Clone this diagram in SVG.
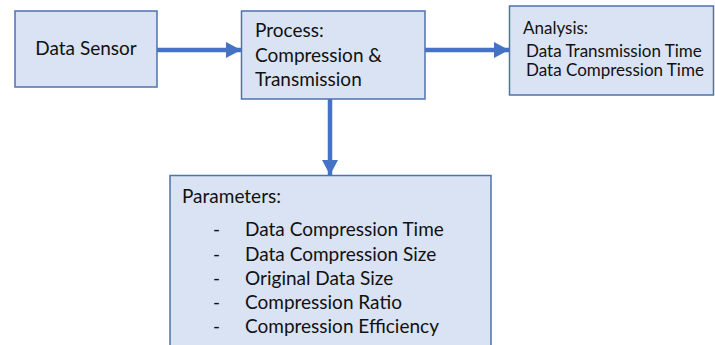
<svg xmlns="http://www.w3.org/2000/svg" width="715" height="345" viewBox="0 0 715 345">
<defs>
<style>
.box{fill:#DAE3F3;stroke:#4F72B0;stroke-width:1.5}
.t{font-family:Lato,"Open Sans",sans-serif;fill:#111;font-size:19px}
.s{font-size:17px}
.c{stroke:#4472C4;stroke-width:4.5;fill:none}
</style>
<marker id="ah" markerUnits="userSpaceOnUse" markerWidth="16" markerHeight="16" refX="15" refY="8" orient="auto" viewBox="0 0 16 16">
<path d="M0,0 L15,8 L0,16 Z" fill="#4472C4"/>
</marker>
</defs>
<rect width="715" height="345" fill="#fff"/>
<g id="connectors">
<line class="c" x1="157" y1="50" x2="241" y2="50" marker-end="url(#ah)"/>
<line class="c" x1="425" y1="50" x2="509" y2="50" marker-end="url(#ah)"/>
<line class="c" x1="330" y1="99" x2="330" y2="175" marker-end="url(#ah)"/>
</g>
<g id="data-sensor">
<rect class="box" x="15" y="11" width="142" height="76"/>
<text class="t" x="86" y="55" text-anchor="middle">Data Sensor</text>
</g>
<g id="process">
<rect class="box" x="241.5" y="11" width="183.5" height="88"/>
<text class="t" x="255" y="37">Process:</text>
<text class="t" x="255" y="62">Compression &amp;</text>
<text class="t" x="255" y="86">Transmission</text>
</g>
<g id="analysis">
<rect class="box" x="509.5" y="6" width="204" height="89"/>
<text class="t s" x="523" y="34">Analysis:</text>
<text class="t s" x="526" y="57">Data Transmission Time</text>
<text class="t s" x="526" y="76">Data Compression Time</text>
</g>
<g id="parameters">
<rect class="box" x="170" y="175.5" width="321" height="180"/>
<text class="t" x="182" y="203">Parameters:</text>
<g class="t">
<text x="213" y="236">-</text><text x="245" y="236">Data Compression Time</text>
<text x="213" y="261">-</text><text x="245" y="261">Data Compression Size</text>
<text x="213" y="285">-</text><text x="245" y="285">Original Data Size</text>
<text x="213" y="309">-</text><text x="245" y="309">Compression Ratio</text>
<text x="213" y="333">-</text><text x="245" y="333">Compression Efficiency</text>
</g>
</g>
</svg>
